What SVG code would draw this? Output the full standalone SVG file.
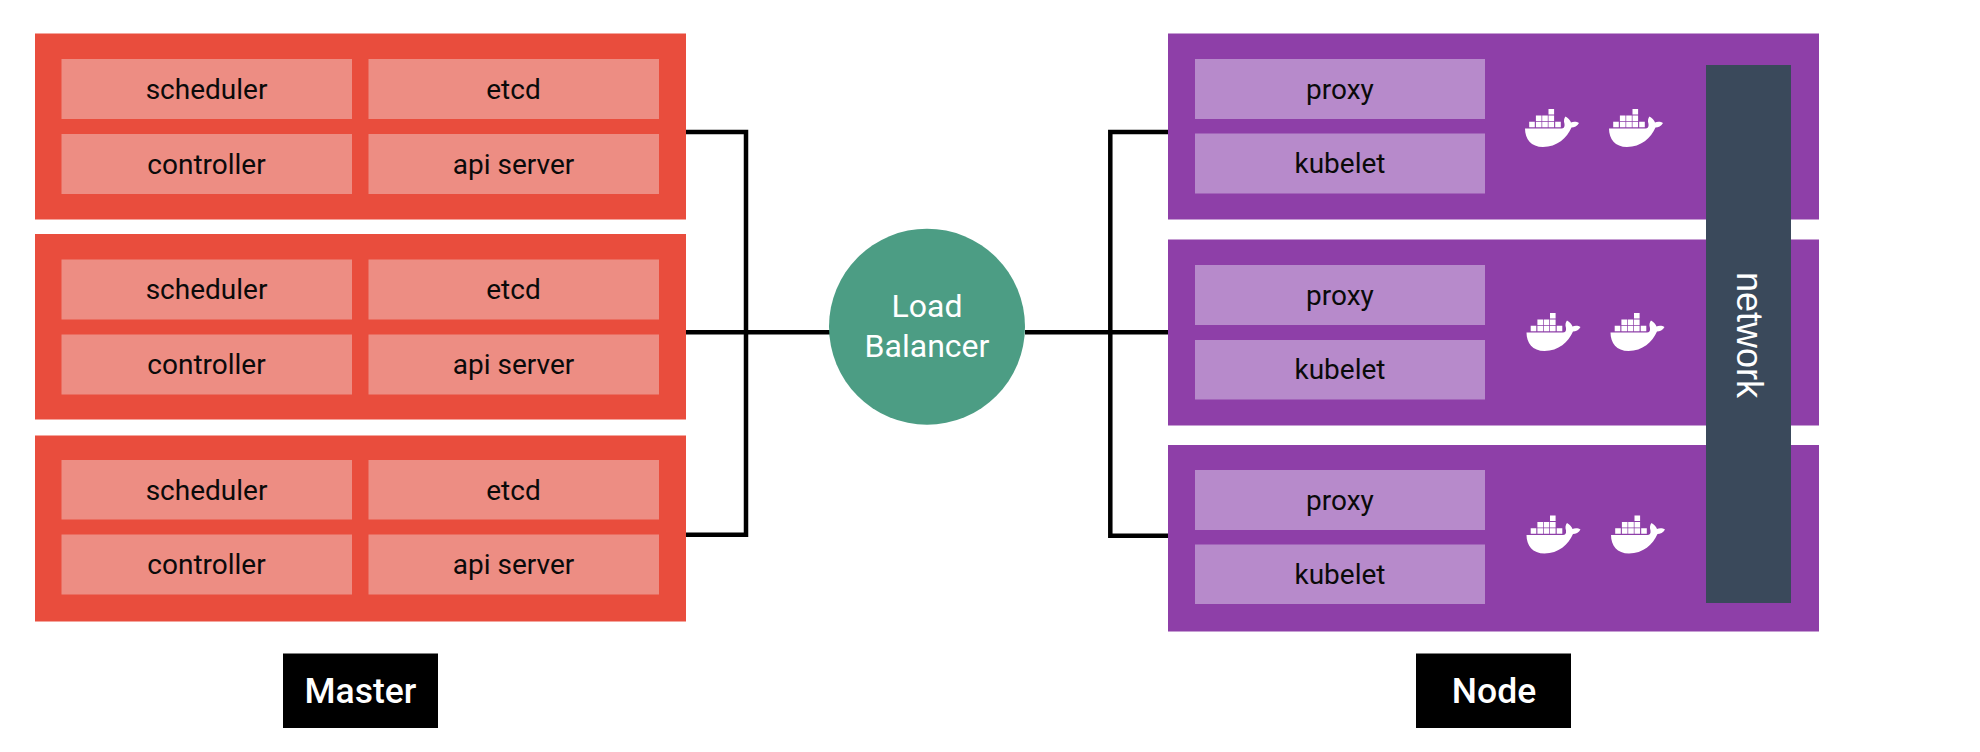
<svg xmlns="http://www.w3.org/2000/svg" width="1980" height="752" viewBox="0 0 1980 752">
<style>
text{font-family:"Roboto","Open Sans","Liberation Sans",sans-serif;text-anchor:middle}
.l{font-size:28px;fill:#0a0a0a}
.red{fill:#E94D3D}.pink{fill:#ED8D83}.pur{fill:#8E3FA8}.lil{fill:#B78ACB}
.w{fill:#fff}
.cap{font-size:35.5px;font-weight:500;fill:#fff}
.lb{font-size:32px;fill:#fff}
.net{font-family:"Liberation Sans",Arial,sans-serif;font-size:36px;fill:#fff}
.conn{fill:none;stroke:#000;stroke-width:4.5}
</style>
<defs>
<g id="whale">
<path class="w" d="M0 19.5H36.5C38.5 19.5 40 18 39.5 15C38.5 12 39 9 40.5 7.5C43 9 45.5 11.5 46 13.5C48 12.5 52 12.5 54 14C52.5 17 49 18.5 46.5 18.5C42 29 32 38 18 38C6 38 0 30 0 19.5Z"/>
<path class="w" d="M23.5 0h5.6v5.6h-5.6zM10.9 6.4h5.6v5.6h-5.6zM17.2 6.4h5.6v5.6h-5.6zM23.5 6.4h5.6v5.6h-5.6zM4.2 12.7h5.6v5.6h-5.6zM10.9 12.7h5.6v5.6h-5.6zM17.2 12.7h5.6v5.6h-5.6zM23.5 12.7h5.6v5.6h-5.6zM30.2 12.7h5.6v5.6h-5.6z"/>
</g>
</defs>
<rect width="1980" height="752" fill="#fff"/>
<g id="connectors" class="conn">
<path d="M686 132H746V534.7H686"/>
<path d="M686 332.3H830"/>
<path d="M1025 332.3H1169"/>
<path d="M1169 132H1110.3V535.7H1169"/>
</g>
<g id="master-1">
<rect class="red" x="35" y="33.5" width="651" height="186"/>
<rect class="pink" x="61.5" y="59" width="290.5" height="60"/><text class="l" x="206.5" y="99">scheduler</text>
<rect class="pink" x="368.5" y="59" width="290.5" height="60"/><text class="l" x="513.5" y="99">etcd</text>
<rect class="pink" x="61.5" y="134" width="290.5" height="60"/><text class="l" x="206.5" y="174">controller</text>
<rect class="pink" x="368.5" y="134" width="290.5" height="60"/><text class="l" x="513.5" y="174">api server</text>
</g>
<g id="master-2">
<rect class="red" x="35" y="234" width="651" height="185.5"/>
<rect class="pink" x="61.5" y="259.5" width="290.5" height="60"/><text class="l" x="206.5" y="299">scheduler</text>
<rect class="pink" x="368.5" y="259.5" width="290.5" height="60"/><text class="l" x="513.5" y="299">etcd</text>
<rect class="pink" x="61.5" y="334.5" width="290.5" height="60"/><text class="l" x="206.5" y="374">controller</text>
<rect class="pink" x="368.5" y="334.5" width="290.5" height="60"/><text class="l" x="513.5" y="374">api server</text>
</g>
<g id="master-3">
<rect class="red" x="35" y="435.5" width="651" height="186"/>
<rect class="pink" x="61.5" y="460" width="290.5" height="59.5"/><text class="l" x="206.5" y="499.5">scheduler</text>
<rect class="pink" x="368.5" y="460" width="290.5" height="59.5"/><text class="l" x="513.5" y="499.5">etcd</text>
<rect class="pink" x="61.5" y="534.5" width="290.5" height="60"/><text class="l" x="206.5" y="574">controller</text>
<rect class="pink" x="368.5" y="534.5" width="290.5" height="60"/><text class="l" x="513.5" y="574">api server</text>
</g>
<g id="load-balancer">
<circle cx="927" cy="326.7" r="98" fill="#4C9D84"/>
<text class="lb" x="927" y="316.7">Load</text>
<text class="lb" x="927" y="357">Balancer</text>
</g>
<g id="node-1">
<rect class="pur" x="1168" y="33.5" width="651" height="186"/>
<rect class="lil" x="1195" y="59" width="290" height="60"/><text class="l" x="1340" y="99">proxy</text>
<rect class="lil" x="1195" y="133.5" width="290" height="60"/><text class="l" x="1340" y="173">kubelet</text>
<use href="#whale" x="1525" y="109"/><use href="#whale" x="1609" y="109"/>
</g>
<g id="node-2">
<rect class="pur" x="1168" y="239.5" width="651" height="186"/>
<rect class="lil" x="1195" y="265" width="290" height="60"/><text class="l" x="1340" y="305">proxy</text>
<rect class="lil" x="1195" y="340" width="290" height="59.5"/><text class="l" x="1340" y="379">kubelet</text>
<use href="#whale" x="1526.5" y="313"/><use href="#whale" x="1610.5" y="313"/>
</g>
<g id="node-3">
<rect class="pur" x="1168" y="445" width="651" height="186.5"/>
<rect class="lil" x="1195" y="470" width="290" height="60"/><text class="l" x="1340" y="509.5">proxy</text>
<rect class="lil" x="1195" y="544.5" width="290" height="59.5"/><text class="l" x="1340" y="584">kubelet</text>
<use href="#whale" x="1526.5" y="515.5"/><use href="#whale" x="1611" y="515.5"/>
</g>
<g id="network">
<rect x="1706" y="65" width="85" height="538" fill="#3A495B"/>
<text class="net" transform="translate(1737 335) rotate(90)">network</text>
</g>
<g id="master-label">
<rect x="283" y="653.5" width="155" height="74.5" fill="#000"/>
<text class="cap" x="360.5" y="702.5">Master</text>
</g>
<g id="node-label">
<rect x="1416" y="653.5" width="155" height="74.5" fill="#000"/>
<text class="cap" x="1494" y="702.5">Node</text>
</g>
</svg>
